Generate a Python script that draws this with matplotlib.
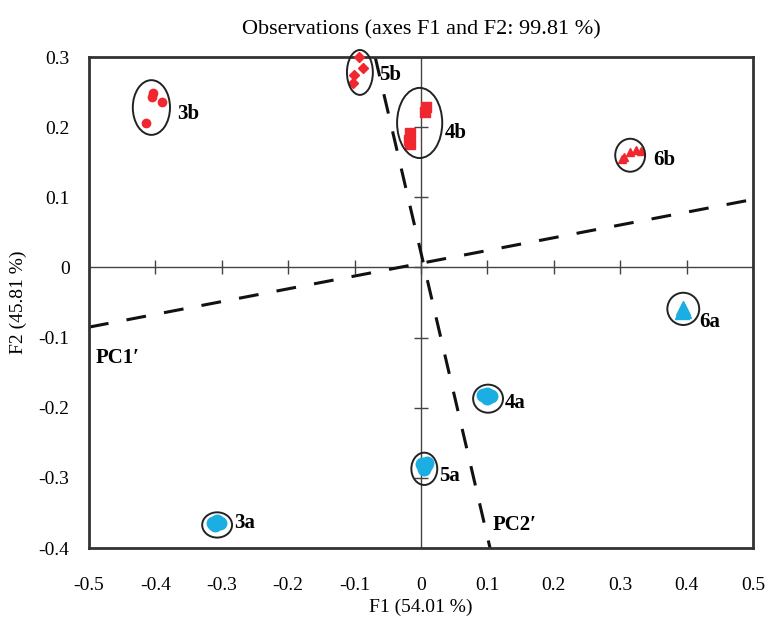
import numpy as np
import matplotlib
matplotlib.use('Agg')
import matplotlib.pyplot as plt
from matplotlib.patches import Ellipse

matplotlib.rcParams['font.family'] = 'Liberation Serif'
matplotlib.rcParams['font.size'] = 13

# 观测点 (F1, F2)
obs_3b = [(-0.404, 0.249), (-0.405, 0.243), (-0.390, 0.236), (-0.414, 0.206)]
obs_5b = [(-0.093, 0.300), (-0.087, 0.284), (-0.101, 0.274), (-0.102, 0.263)]
obs_4b = [(0.008, 0.229), (0.006, 0.222), (-0.016, 0.191), (-0.018, 0.182), (-0.017, 0.176)]
obs_6b = [(0.302, 0.154), (0.306, 0.158), (0.315, 0.164), (0.324, 0.167), (0.331, 0.166)]
obs_6a = [(0.394, -0.058), (0.396, -0.062), (0.393, -0.063)]
obs_4a = [(0.094, -0.182), (0.100, -0.180), (0.106, -0.183), (0.099, -0.186)]
obs_5a = [(0.002, -0.280), (0.007, -0.282), (0.004, -0.287), (0.009, -0.278)]
obs_3a = [(-0.313, -0.364), (-0.307, -0.361), (-0.303, -0.364), (-0.310, -0.367)]

# 椭圆: 中心x, 中心y, 宽, 高
ellipses = {
    '3b': (-0.406, 0.228, 0.056, 0.078),
    '5b': (-0.092, 0.278, 0.039, 0.064),
    '4b': (-0.002, 0.206, 0.068, 0.100),
    '6b': (0.315, 0.160, 0.045, 0.047),
    '6a': (0.395, -0.059, 0.048, 0.046),
    '4a': (0.101, -0.187, 0.045, 0.040),
    '5a': (0.005, -0.287, 0.039, 0.046),
    '3a': (-0.307, -0.367, 0.045, 0.036),
}

# 标签位置
labels = {
    '3b': (-0.368, 0.219), '5b': (-0.063, 0.274), '4b': (0.036, 0.191),
    '6b': (0.350, 0.153), '6a': (0.419, -0.078), '4a': (0.126, -0.193),
    '5a': (0.028, -0.297), '3a': (-0.281, -0.364),
}

# 主成分方向线
pc1_x = [-0.5, 0.5]
pc1_y = [-0.085, 0.097]
pc2_x = [-0.069, 0.104]
pc2_y = [0.3, -0.4]

xticks = np.round(np.arange(-0.5, 0.51, 0.1), 1) + 0.0
yticks = np.round(np.arange(-0.4, 0.31, 0.1), 1) + 0.0


def fmt(v):
    return '0' if abs(v) < 1e-9 else f'{v:g}'


red = '#f0272f'
blue = '#1aaee2'

fig = plt.figure(figsize=(7.69, 6.3), dpi=100)
ax = fig.add_axes([0.1157, 0.130, 0.8635, 0.7795])

# 中心十字线和刻度
ax.axhline(0, color='#444444', lw=1.0, zorder=1)
ax.axvline(0, color='#444444', lw=1.0, zorder=1)
ax.plot(xticks, np.zeros_like(xticks), ls='none', marker='|', ms=10, mew=1.0, color='#444444', zorder=1)
ax.plot(np.zeros_like(yticks), yticks, ls='none', marker='_', ms=10, mew=1.0, color='#444444', zorder=1)

# 虚线
ax.plot(pc1_x, pc1_y, color='#111111', lw=2.2, dashes=(6.5, 6), zorder=2)
ax.plot(pc2_x, pc2_y, color='#111111', lw=2.2, dashes=(6.5, 6), zorder=2)

# 点
for pts, m, c, s in [(obs_3b, 'o', red, 6), (obs_5b, 'D', red, 5), (obs_4b, 's', red, 7),
                     (obs_6b, '^', red, 6), (obs_6a, '^', blue, 10), (obs_4a, 'o', blue, 9),
                     (obs_5a, 'o', blue, 9), (obs_3a, 'o', blue, 9)]:
    a = np.array(pts)
    ax.plot(a[:, 0], a[:, 1], ls='none', marker=m, ms=s, color=c, mec=c, zorder=3, clip_on=False)

for k, (cx, cy, w, h) in ellipses.items():
    ax.add_patch(Ellipse((cx, cy), w, h, fill=False, ec='#222222', lw=1.4, zorder=4, clip_on=False))

for k, (lx, ly) in labels.items():
    ax.text(lx, ly, k, fontsize=15, fontweight='bold', va='center', ha='left', zorder=5)

ax.text(-0.49, -0.129, 'PC1\u2032', fontsize=15, fontweight='bold', va='center', ha='left')
ax.text(0.108, -0.367, 'PC2\u2032', fontsize=15, fontweight='bold', va='center', ha='left')

ax.set_xlim(-0.5, 0.5)
ax.set_ylim(-0.4, 0.3)
ax.set_xticks(xticks)
ax.set_yticks(yticks)
ax.set_xticklabels([fmt(v) for v in xticks])
ax.set_yticklabels([fmt(v) for v in yticks])
ax.tick_params(length=0, labelsize=14)
ax.tick_params(axis='x', pad=21)
ax.tick_params(axis='y', pad=14)
for sp in ax.spines.values():
    sp.set_linewidth(2.0)
    sp.set_color('#333333')

ax.set_xlabel('F1 (54.01 %)', fontsize=14, labelpad=3)
ax.set_ylabel('F2 (45.81 %)', fontsize=14, labelpad=8)
ax.set_title('Observations (axes F1 and F2: 99.81 %)', fontsize=16, pad=16)

fig.savefig('out.png', dpi=100)
